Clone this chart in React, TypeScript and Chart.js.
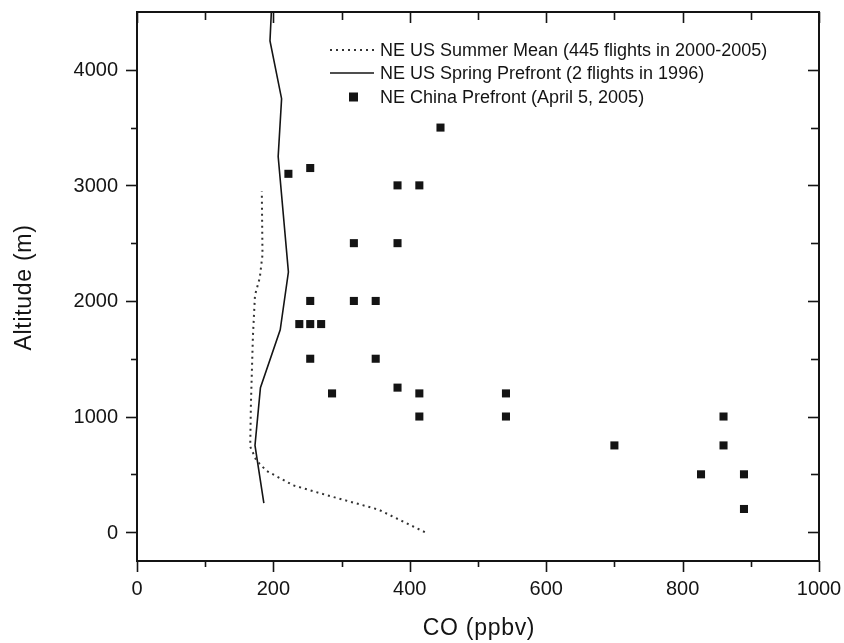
import React, { useEffect, useRef } from 'react';
import { Chart, registerables } from 'chart.js';

Chart.register(...registerables);

// ---- Data (CO in ppbv, altitude in m) ----
const SUMMER_LABEL = 'NE US Summer Mean (445 flights in 2000-2005)';
const SUMMER_CO = [422, 354, 278, 229, 190, 175, 166, 167, 170, 173, 180, 184, 183];
const SUMMER_ALT = [0, 195, 320, 405, 530, 620, 740, 1100, 1700, 2050, 2200, 2400, 2950];

const SPRING_LABEL = 'NE US Spring Prefront (2 flights in 1996)';
const SPRING_CO = [186, 173, 181, 210, 222, 207, 212, 195, 197];
const SPRING_ALT = [250, 750, 1250, 1750, 2250, 3250, 3750, 4250, 4500];

const CHINA_LABEL = 'NE China Prefront (April 5, 2005)';
const CHINA_CO = [445, 222, 254, 382, 414, 318, 382, 254, 318, 350, 238, 254, 270, 254, 350, 286, 382, 414, 414, 541, 541, 700, 860, 860, 827, 890, 890];
const CHINA_ALT = [3500, 3100, 3150, 3000, 3000, 2500, 2500, 2000, 2000, 2000, 1800, 1800, 1800, 1500, 1500, 1200, 1250, 1200, 1000, 1200, 1000, 750, 1000, 750, 500, 500, 200];

// ---- Axes ----
const X_MIN = 0;
const X_MAX = 1000;
const Y_MIN = -250;
const Y_MAX = 4500;
const X_TICKS = [0, 200, 400, 600, 800, 1000];
const X_MINOR_TICKS = [100, 300, 500, 700, 900];
const Y_TICKS = [0, 1000, 2000, 3000, 4000];
const Y_MINOR_TICKS = [500, 1500, 2500, 3500];
const X_TITLE = 'CO (ppbv)';
const Y_TITLE = 'Altitude (m)';

const FONT = "'Liberation Sans', Arial, sans-serif";
const INK = '#141414';

const toPts = (xs: number[], ys: number[]) => xs.map((v, i) => ({ x: v, y: ys[i] }));

const decorPlugin = {
  id: 'decor',
  afterDraw(chart: any) {
    const { ctx, chartArea: a, scales } = chart;
    const xs = scales.x;
    const ys = scales.y;
    ctx.save();
    ctx.strokeStyle = INK;
    ctx.fillStyle = INK;

    // frame
    ctx.lineWidth = 2;
    ctx.strokeRect(a.left, a.top, a.right - a.left, a.bottom - a.top);

    const MAJ = 11;
    const MIN = 6;
    ctx.lineWidth = 1.6;
    const line = (x1: number, y1: number, x2: number, y2: number) => {
      ctx.beginPath();
      ctx.moveTo(x1, y1);
      ctx.lineTo(x2, y2);
      ctx.stroke();
    };
    X_TICKS.forEach((v) => {
      const p = Math.round(xs.getPixelForValue(v)) + 0.5;
      line(p, a.bottom, p, a.bottom + MAJ);
      line(p, a.top, p, a.top + MAJ);
    });
    X_MINOR_TICKS.forEach((v) => {
      const p = Math.round(xs.getPixelForValue(v)) + 0.5;
      line(p, a.bottom, p, a.bottom + MIN);
      line(p, a.top, p, a.top + MIN + 2);
    });
    Y_TICKS.forEach((v) => {
      const p = Math.round(ys.getPixelForValue(v)) + 0.5;
      line(a.left - MAJ, p, a.left, p);
      line(a.right - MAJ, p, a.right, p);
    });
    Y_MINOR_TICKS.forEach((v) => {
      const p = Math.round(ys.getPixelForValue(v)) + 0.5;
      line(a.left - MIN, p, a.left, p);
      line(a.right - MIN - 2, p, a.right, p);
    });

    // tick labels
    ctx.font = `20px ${FONT}`;
    ctx.textAlign = 'center';
    ctx.textBaseline = 'middle';
    X_TICKS.forEach((v) => {
      ctx.fillText(String(v), xs.getPixelForValue(v), a.bottom + 28);
    });
    ctx.textAlign = 'right';
    Y_TICKS.forEach((v) => {
      ctx.fillText(String(v), a.left - 19, ys.getPixelForValue(v) + 1);
    });

    // axis titles
    ctx.font = `23px ${FONT}`;
    try { (ctx as any).letterSpacing = '0.7px'; } catch (e) { /* ignore */ }
    ctx.textAlign = 'center';
    ctx.fillText(X_TITLE, (a.left + a.right) / 2 + 1, a.bottom + 68);
    ctx.save();
    ctx.translate(25, (a.top + a.bottom) / 2 + 1);
    ctx.rotate(-Math.PI / 2);
    ctx.fillText(Y_TITLE, 0, 0);
    ctx.restore();
    try { (ctx as any).letterSpacing = '0px'; } catch (e) { /* ignore */ }

    // legend
    const lx0 = 330;
    const lx1 = 374;
    const tx = 380;
    const rows = [50, 73, 97];
    ctx.font = `18px ${FONT}`;
    ctx.textAlign = 'left';
    ctx.strokeStyle = '#333';
    ctx.lineWidth = 2;
    ctx.setLineDash([2, 4]);
    line(lx0, rows[0], lx1, rows[0]);
    ctx.setLineDash([]);
    ctx.strokeStyle = INK;
    ctx.lineWidth = 1.6;
    line(lx0, rows[1], lx1, rows[1]);
    ctx.fillRect(349, rows[2] - 4.5, 9, 9);
    ctx.fillText(SUMMER_LABEL, tx, rows[0] + 1);
    ctx.fillText(SPRING_LABEL, tx, rows[1] + 1);
    ctx.fillText(CHINA_LABEL, tx, rows[2] + 1);
    ctx.restore();
  },
};

export default function App() {
  const ref = useRef<HTMLCanvasElement | null>(null);
  useEffect(() => {
    if (!ref.current) return;
    const chart = new Chart(ref.current, {
      type: 'scatter',
      data: {
        datasets: [
          {
            label: SUMMER_LABEL,
            data: toPts(SUMMER_CO, SUMMER_ALT),
            showLine: true,
            borderColor: '#333',
            borderWidth: 2,
            borderDash: [2, 4],
            pointRadius: 0,
            tension: 0,
          },
          {
            label: SPRING_LABEL,
            data: toPts(SPRING_CO, SPRING_ALT),
            showLine: true,
            borderColor: INK,
            borderWidth: 1.6,
            pointRadius: 0,
            tension: 0,
          },
          {
            label: CHINA_LABEL,
            data: toPts(CHINA_CO, CHINA_ALT),
            showLine: false,
            pointStyle: 'rect',
            pointRadius: 5.7,
            pointBackgroundColor: INK,
            pointBorderColor: INK,
            pointBorderWidth: 0,
          },
        ],
      },
      options: {
        responsive: false,
        animation: false,
        events: [],
        layout: { padding: { top: 12, right: 25, left: 0, bottom: 0 } },
        plugins: { legend: { display: false }, tooltip: { enabled: false } },
        scales: {
          x: {
            type: 'linear',
            min: X_MIN,
            max: X_MAX,
            grid: { display: false },
            border: { display: false },
            ticks: { display: false },
            afterFit: (s: any) => { s.height = 82; },
          },
          y: {
            type: 'linear',
            min: Y_MIN,
            max: Y_MAX,
            grid: { display: false },
            border: { display: false },
            ticks: { display: false },
            afterFit: (s: any) => { s.width = 137; },
          },
        },
      },
      plugins: [decorPlugin],
    });
    return () => chart.destroy();
  }, []);
  return (
    <div style={{ position: 'absolute', left: 0, top: 0, width: 844, height: 643, background: '#fff' }}>
      <canvas ref={ref} width={844} height={643} />
    </div>
  );
}
